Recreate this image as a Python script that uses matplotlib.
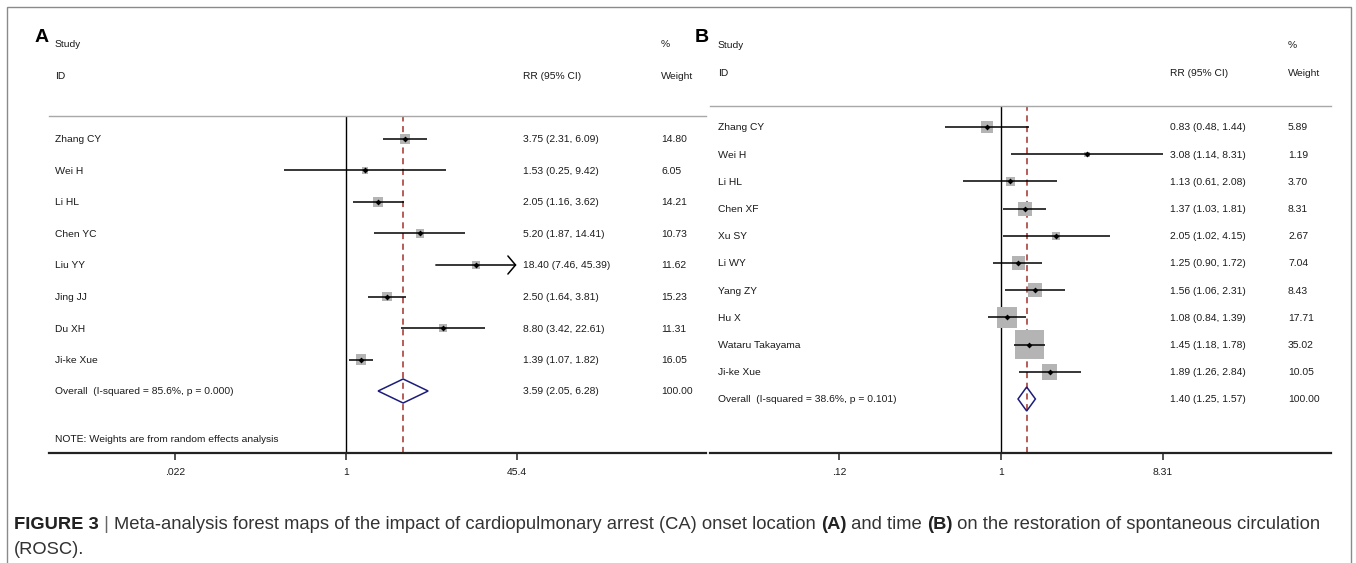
import numpy as np
import matplotlib
matplotlib.use("Agg")
import matplotlib.pyplot as plt
from matplotlib.patches import Polygon, Rectangle
from matplotlib.ticker import NullLocator
from matplotlib.transforms import blended_transform_factory

plt.rcParams["text.hinting"] = "native"

# ---- data: panel A (CA onset location)
a_studies = ["Zhang CY", "Wei H", "Li HL", "Chen YC", "Liu YY", "Jing JJ", "Du XH", "Ji-ke Xue"]
a_rr = [3.75, 1.53, 2.05, 5.20, 18.40, 2.50, 8.80, 1.39]
a_lo = [2.31, 0.25, 1.16, 1.87, 7.46, 1.64, 3.42, 1.07]
a_hi = [6.09, 9.42, 3.62, 14.41, 45.39, 3.81, 22.61, 1.82]
a_weight = [14.80, 6.05, 14.21, 10.73, 11.62, 15.23, 11.31, 16.05]
a_overall = [3.59, 2.05, 6.28, 100.00]
a_i2, a_p = 85.6, 0.000
a_ticks = [0.022, 1, 45.4]
a_ticklabels = [".022", "1", "45.4"]
a_clipped = ["Liu YY"]

# ---- data: panel B (CA onset time)
b_studies = ["Zhang CY", "Wei H", "Li HL", "Chen XF", "Xu SY", "Li WY", "Yang ZY", "Hu X",
             "Wataru Takayama", "Ji-ke Xue"]
b_rr = [0.83, 3.08, 1.13, 1.37, 2.05, 1.25, 1.56, 1.08, 1.45, 1.89]
b_lo = [0.48, 1.14, 0.61, 1.03, 1.02, 0.90, 1.06, 0.84, 1.18, 1.26]
b_hi = [1.44, 8.31, 2.08, 1.81, 4.15, 1.72, 2.31, 1.39, 1.78, 2.84]
b_weight = [5.89, 1.19, 3.70, 8.31, 2.67, 7.04, 8.43, 17.71, 35.02, 10.05]
b_overall = [1.40, 1.25, 1.57, 100.00]
b_i2, b_p = 38.6, 0.101
b_ticks = [0.12, 1, 8.31]
b_ticklabels = [".12", "1", "8.31"]
b_clipped = []

W, H = 1356, 563
NARROW = ["Liberation Sans Narrow", "Liberation Sans", "DejaVu Sans"]
TXT = "#1a1a1a"
FS = 7.4

fig = plt.figure(figsize=(W / 100, H / 100), dpi=100)


def panel(x0, x1, xnull, ppl, ytop, ybot, row0, step, cols, head_y,
          studies, rr, lo, hi, wt, overall, i2, p, ticks, ticklabels, clipped,
          box_k, note=None):
    ax = fig.add_axes([x0 / W, 1 - ybot / H, (x1 - x0) / W, (ybot - ytop) / H])
    ax.set_xscale("log")
    ax.set_xlim(np.exp((x0 - xnull) / ppl), np.exp((x1 - xnull) / ppl))
    ax.set_ylim((ybot - row0) / step, -(row0 - ytop) / step)
    n = len(studies)
    rows = np.arange(n)

    ax.axvline(1, color="black", lw=1.0, zorder=1)
    ax.axvline(overall[0], color="#a3302a", lw=1.1, ls=(0, (4, 3)), zorder=1)

    sizes = (box_k * np.sqrt(wt) * 0.72) ** 2
    ax.scatter(rr, rows, s=sizes, marker="s", color="#b4b4b4", lw=0, zorder=2)
    for i in range(n):
        if studies[i] in clipped:
            ax.annotate("", xy=(hi[i], i), xytext=(lo[i], i),
                        arrowprops=dict(arrowstyle="->,head_length=0.55,head_width=0.65",
                                        lw=1.1, color="black", mutation_scale=10,
                                        shrinkA=0, shrinkB=0), zorder=3)
        else:
            ax.plot([lo[i], hi[i]], [i, i], color="black", lw=1.1, zorder=3,
                    solid_capstyle="butt")
    ax.scatter(rr, rows, s=9, marker="D", color="black", lw=0, zorder=4)

    hh = 12 / step
    est, olo, ohi, ow = overall
    ax.add_patch(Polygon([(olo, n), (est, n - hh), (ohi, n), (est, n + hh)],
                         closed=True, fill=False, ec="#1c1c7a", lw=1.1, zorder=4))

    tr = blended_transform_factory(ax.transAxes, ax.transData)
    fx = [(c - x0) / (x1 - x0) for c in cols]
    kw = dict(transform=tr, va="center_baseline", fontsize=FS, color=TXT, family=NARROW,
              clip_on=False)
    for i in range(n):
        ax.text(fx[0], i, studies[i], **kw)
        ax.text(fx[1], i, f"{rr[i]:.2f} ({lo[i]:.2f}, {hi[i]:.2f})", **kw)
        ax.text(fx[2], i, f"{wt[i]:.2f}", **kw)
    ax.text(fx[0], n, f"Overall  (I-squared = {i2:.1f}%, p = {p:.3f})", **kw)
    ax.text(fx[1], n, f"{est:.2f} ({olo:.2f}, {ohi:.2f})", **kw)
    ax.text(fx[2], n, f"{ow:.2f}", **kw)

    ys, yi = [-(row0 - y) / step for y in head_y]
    ax.text(fx[0], ys, "Study", **kw)
    ax.text(fx[2], ys, "%", **kw)
    ax.text(fx[0], yi, "ID", **kw)
    ax.text(fx[1], yi, "RR (95% CI)", **kw)
    ax.text(fx[2], yi, "Weight", **kw)
    if note:
        ax.text(fx[0], (note[1] - row0) / step, note[0], **kw)

    ax.set_xticks(ticks)
    ax.set_xticklabels(ticklabels, family=NARROW, fontsize=FS, color=TXT)
    ax.xaxis.set_minor_locator(NullLocator())
    ax.set_yticks([])
    ax.tick_params(axis="x", direction="out", length=5, width=1.1, pad=6, color="#222")
    for s in ["left", "right"]:
        ax.spines[s].set_visible(False)
    ax.spines["top"].set_color("#a8a8a8")
    ax.spines["top"].set_linewidth(1.0)
    ax.spines["bottom"].set_color("#222")
    ax.spines["bottom"].set_linewidth(1.6)
    ax.set_facecolor("none")
    return ax


panel(49, 706, 346, 44.7, 116, 453, 139, 31.5, [55, 523, 661], [44, 76],
      a_studies, a_rr, a_lo, a_hi, a_weight, a_overall, a_i2, a_p,
      a_ticks, a_ticklabels, a_clipped, box_k=2.5,
      note=("NOTE: Weights are from random effects analysis", 438))
panel(710, 1331, 1001, 76.3, 106, 453, 127, 27.2, [718, 1170, 1288], [44, 72],
      b_studies, b_rr, b_lo, b_hi, b_weight, b_overall, b_i2, b_p,
      b_ticks, b_ticklabels, b_clipped, box_k=4.9)

fig.text(35 / W, 1 - 42 / H, "A", fontsize=14, weight="bold", family="Liberation Sans",
         va="baseline", color="black")
fig.text(695 / W, 1 - 42 / H, "B", fontsize=14, weight="bold", family="Liberation Sans",
         va="baseline", color="black")

# outer frame
fig.add_artist(Rectangle((7 / W, -0.2), (1351 - 7) / W, 1.2 - 7 / H, transform=fig.transFigure,
                         fill=False, ec="#8a8a8a", lw=1.0))

# caption, pieces laid out one after another on the same baseline
CFS = 13.2
segs = [("FIGURE 3", "bold", "#222"), (" | ", "normal", "#666"),
        ("Meta-analysis forest maps of the impact of cardiopulmonary arrest (CA) onset location ", "normal", "#333"),
        ("(A)", "bold", "#222"), (" and time ", "normal", "#333"), ("(B)", "bold", "#222"),
        (" on the restoration of spontaneous circulation", "normal", "#333")]
renderer = fig.canvas.get_renderer()
x = 14
for txt, wgt, col in segs:
    t = fig.text(x / W, 1 - 529 / H, txt, weight=wgt, color=col, fontsize=CFS,
                 family="Liberation Sans", va="baseline")
    x = t.get_window_extent(renderer).x1
fig.text(14 / W, 1 - 554 / H, "(ROSC).", color="#333", fontsize=CFS, family="Liberation Sans",
         va="baseline")

fig.savefig("out.png", dpi=100)
